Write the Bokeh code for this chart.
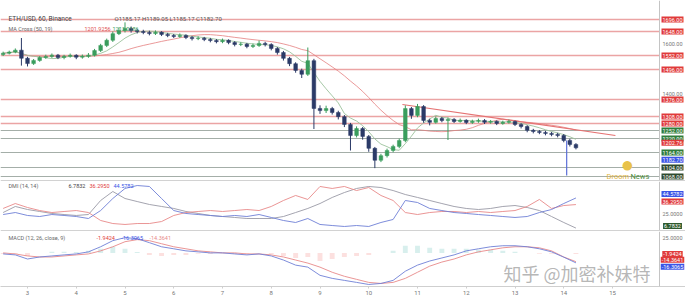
import numpy as np
import pandas as pd
from bokeh.plotting import figure
from bokeh.layouts import column
from bokeh.models import Range1d, Span, Label, FixedTicker
from bokeh.core.properties import value
from bokeh.embed import file_html
from bokeh.resources import INLINE

# ---------------- data ----------------
bar_step_days = 0.125          # 3-hour candles
first_bar_day = 2.5
first_open = 1556.0
closes = [1561.2, 1565.8, 1573.4, 1541.0, 1519.6, 1532.3, 1543.9, 1548.2, 1553.5, 1544.1,
          1549.0, 1552.7, 1545.3, 1548.6, 1553.2, 1571.8, 1592.4, 1613.0, 1639.5, 1651.7,
          1660.3, 1652.1, 1647.6, 1644.2, 1639.8, 1644.9, 1636.4, 1631.7, 1628.3, 1632.5,
          1624.0, 1619.6, 1621.2, 1615.8, 1611.9, 1607.4, 1612.6, 1603.8, 1596.1, 1597.5,
          1588.2, 1592.0, 1600.4, 1595.7, 1580.3, 1563.9, 1540.6, 1519.2, 1492.5, 1476.8,
          1531.4, 1340.2, 1331.6, 1339.8, 1324.1, 1307.5, 1276.3, 1231.8, 1259.7, 1228.4,
          1180.6, 1132.9, 1151.4, 1172.2, 1188.5, 1211.7, 1339.6, 1312.4, 1347.9, 1292.3,
          1284.6, 1300.2, 1291.8, 1296.4, 1288.1, 1292.6, 1284.3, 1288.9, 1292.1, 1284.7,
          1288.3, 1280.5, 1284.8, 1288.2, 1276.4, 1268.1, 1252.6, 1247.9, 1244.3, 1240.2,
          1236.5, 1232.1, 1212.4, 1196.3, 1182.7]
highs = [1567.5, 1571.4, 1580.2, 1622.0, 1546.8, 1537.9, 1549.6, 1555.3, 1560.1, 1558.2,
         1554.7, 1559.8, 1557.1, 1555.9, 1561.7, 1578.3, 1598.6, 1619.5, 1648.2, 1664.0,
         1684.6, 1667.9, 1658.4, 1655.0, 1651.3, 1652.4, 1649.1, 1642.5, 1638.0, 1640.2,
         1636.8, 1630.3, 1628.7, 1626.4, 1622.2, 1618.0, 1619.8, 1616.9, 1609.5, 1605.2,
         1602.3, 1599.6, 1611.8, 1606.9, 1601.0, 1585.7, 1570.2, 1546.3, 1525.0, 1499.4,
         1584.0, 1538.6, 1352.7, 1351.2, 1346.5, 1331.0, 1313.8, 1282.4, 1268.5, 1266.1,
         1234.0, 1186.2, 1158.8, 1179.5, 1195.3, 1219.6, 1352.4, 1346.0, 1358.3, 1353.6,
         1298.9, 1308.1, 1306.3, 1303.7, 1301.5, 1299.8, 1297.0, 1295.2, 1299.4, 1297.6,
         1294.1, 1292.8, 1291.3, 1295.7, 1292.0, 1281.5, 1273.2, 1258.7, 1254.0, 1250.6,
         1246.3, 1242.8, 1238.0, 1218.9, 1201.4]
lows = [1549.8, 1556.3, 1561.0, 1511.5, 1508.2, 1514.4, 1527.0, 1538.7, 1542.4, 1537.6,
        1536.9, 1543.5, 1537.2, 1539.4, 1542.8, 1548.1, 1566.2, 1585.7, 1606.4, 1633.8,
        1644.1, 1643.5, 1640.2, 1637.1, 1632.6, 1634.0, 1629.8, 1625.3, 1621.9, 1622.6,
        1617.4, 1612.1, 1613.5, 1609.3, 1604.7, 1600.6, 1601.2, 1597.0, 1588.4, 1589.7,
        1580.9, 1582.1, 1586.5, 1588.2, 1572.6, 1555.4, 1531.8, 1509.5, 1483.1, 1462.0,
        1470.3, 1258.0, 1318.4, 1322.0, 1315.8, 1296.3, 1265.7, 1172.0, 1224.3, 1215.2,
        1166.9, 1101.5, 1125.6, 1144.0, 1164.8, 1181.2, 1205.3, 1298.7, 1305.1, 1283.0,
        1272.4, 1279.5, 1285.0, 1214.0, 1281.9, 1283.4, 1277.5, 1278.6, 1282.7, 1278.0,
        1279.2, 1273.6, 1275.1, 1279.4, 1269.8, 1260.3, 1244.9, 1240.5, 1237.2, 1232.8,
        1229.1, 1224.6, 1204.7, 1188.0, 1176.5]

# DMI (one value every second candle)
dmi_blue = [23.8, 26.3, 22.6, 21.3, 23.8, 22.6, 21.3, 18.8, 28.8, 43.9,
            56.5, 60.2, 59.0, 43.9, 28.8, 25.1, 23.8, 22.6, 21.3, 22.6,
            21.3, 23.8, 20.1, 16.3, 13.8, 18.8, 11.3, 10.0, 8.8, 10.0,
            8.8, 13.8, 17.6, 41.4, 38.9, 31.4, 28.8, 26.3, 25.1, 23.8,
            22.6, 21.3, 20.1, 21.3, 26.3, 30.1, 37.6, 44.5782]
dmi_red = [31.4, 37.6, 32.6, 28.8, 26.3, 27.6, 28.8, 26.3, 16.3, 12.5,
           11.3, 12.5, 12.5, 15.0, 22.6, 26.3, 27.6, 28.8, 27.6, 28.8,
           30.1, 28.8, 33.9, 41.4, 47.7, 42.7, 59.0, 56.5, 59.0, 53.9,
           57.7, 47.7, 41.4, 26.3, 23.8, 26.3, 27.6, 27.6, 26.3, 27.6,
           26.3, 27.6, 28.8, 33.9, 42.7, 31.4, 35.1, 36.2950]
dmi_gray = [26.3, 33.9, 30.1, 27.6, 25.1, 23.8, 22.6, 23.8, 41.4, 52.7,
            43.9, 40.1, 36.4, 33.9, 31.4, 27.6, 25.1, 22.6, 21.3, 20.1,
            18.8, 18.8, 18.8, 21.3, 26.3, 31.4, 37.6, 45.2, 51.4, 56.5,
            59.0, 57.7, 53.9, 48.9, 45.2, 41.4, 37.6, 33.9, 31.4, 30.1,
            31.4, 33.9, 35.1, 32.6, 28.8, 21.3, 13.8, 6.7832]

# MACD (one value every second candle)
macd_line = [-1.7, -3.3, -10.0, -6.7, -5.0, -3.3, -1.7, 1.7, 10.0, 20.0,
             25.0, 23.3, 16.7, 10.0, 6.7, 3.3, 1.7, 0.0, 0.0, -1.7,
             -3.3, -1.7, -5.0, -11.7, -20.0, -23.3, -36.7, -41.7, -45.0, -48.3,
             -51.7, -50.0, -45.0, -30.0, -20.0, -13.3, -8.3, -3.3, 3.3, 6.7,
             10.0, 11.7, 11.7, 10.0, 6.7, 1.7, -7.0, -16.3065]
macd_signal = [0.0, -1.7, -5.0, -6.7, -6.7, -5.0, -3.3, -1.7, 3.3, 10.0,
               18.3, 21.7, 20.0, 15.0, 10.0, 6.7, 3.3, 1.7, 0.0, 0.0,
               -1.7, -1.7, -3.3, -6.7, -11.7, -16.7, -23.3, -31.7, -38.3, -43.3,
               -48.3, -50.0, -48.3, -41.7, -31.7, -21.7, -15.0, -10.0, -3.3, 1.7,
               5.0, 8.3, 10.0, 10.0, 8.3, 3.3, -6.7, -14.3641]

red_levels = [1696.0, 1648.0, 1552.0, 1496.0, 1376.0, 1308.0, 1280.0]
gray_levels = [1252.0, 1220.0, 1164.0, 1104.0, 1068.0]
axis_ticks_price = [1600.0, 1400.0]
trend_days = [10.69, 15.06]
trend_prices = [1356.0, 1232.0]
drawing_day = [14.06]
drawing_top = [1212.0]
drawing_bottom = [1072.0]
trend_label_price = 1202.76
last_price = 1182.70
day_ticks = [3, 4, 5, 6, 7, 8, 9, 10, 11, 12, 13, 14, 15]

# ---------------- geometry ----------------
W = 685
PX_PER_DAY = 48.75
X0_DAY = 3 - 27 / PX_PER_DAY
def dx(px):
    return X0_DAY + px / PX_PER_DAY

def main_y(py):        # pixel row -> price (main pane, rows 0..181)
    return 1772 - 4 * py
def dmi_y(py):         # local pixel row in DMI pane (0..50)
    return 5 + (48 - py) * 1.255
def macd_y(py):        # local pixel row in MACD pane frame (0..54)
    return (21 - py) / 0.6

AXIS_DAY = dx(659)
LABEL_DAY = dx(672)
FONT = "Roboto"

x_range = Range1d(dx(0), dx(W))

def make_fig(h, y0, y1, xaxis=False):
    f = figure(width=W, height=h, x_range=x_range, y_range=Range1d(y0, y1),
               output_backend="svg", toolbar_location=None,
               x_axis_location="below" if xaxis else None, y_axis_location=None,
               min_border=0, min_border_left=0, min_border_right=0,
               min_border_top=0, min_border_bottom=0)
    f.outline_line_color = None
    f.grid.visible = False
    f.background_fill_color = "white"
    f.border_fill_color = "white"
    f.add_layout(Span(location=AXIS_DAY, dimension="height", line_color="#c4c4c4", line_width=1))
    return f

def boxes(f, ys, texts, fill, y_offset=0, color="white"):
    f.text(x=[LABEL_DAY] * len(ys), y=ys, text=texts, text_font=value(FONT),
           text_font_size="5.5px", text_align="center", text_baseline="middle",
           text_color=color, background_fill_color=fill, padding=1, y_offset=y_offset)

def plain(f, ys, texts):
    f.text(x=[LABEL_DAY] * len(ys), y=ys, text=texts, text_font=value(FONT),
           text_font_size="5.5px", text_align="center", text_baseline="middle",
           text_color="#777777")

def head(f, px, y, text, color="#555555", size="6.5px"):
    f.add_layout(Label(x=dx(px), y=y, text=text, text_font=FONT, text_font_size=size,
                       text_color=color, text_baseline="middle"))

# ---------------- main pane ----------------
n = len(closes)
t = first_bar_day + np.arange(n) * bar_step_days
o = np.array([first_open] + closes[:-1])
c = np.array(closes)
up = c >= o
col = np.where(up, "#3a9d5d", "#2b3a67")

p = make_fig(181, main_y(181), main_y(0))

for lv in red_levels:
    p.segment(x0=[dx(0)], y0=[lv], x1=[AXIS_DAY], y1=[lv], line_color="#e99a9a", line_width=1.5, line_alpha=0.9)
for lv in gray_levels:
    p.segment(x0=[dx(0)], y0=[lv], x1=[AXIS_DAY], y1=[lv], line_color="#8d9a92", line_width=1, line_alpha=0.8)

ma_slow = pd.Series(closes).rolling(17, min_periods=1).mean()
ma_fast = pd.Series(closes).rolling(6, min_periods=1).mean()
p.line(t, ma_slow, line_color="#e57f7f", line_width=1, line_alpha=0.8)
p.line(t, ma_fast, line_color="#9cc29c", line_width=1, line_alpha=0.9)

p.line(trend_days, trend_prices, line_color="#e57373", line_width=1.2)
p.segment(x0=drawing_day, y0=drawing_top, x1=drawing_day, y1=drawing_bottom, line_color="#5b6fd6", line_width=1.2)

p.segment(t, highs, t, lows, line_color=col, line_width=1)
p.vbar(x=t, top=np.maximum(o, c), bottom=np.minimum(o, c), width=0.075,
       fill_color=col, line_color=col, line_width=0.5)

p.add_layout(Span(location=main_y(180.5), dimension="width", line_color="#d2d2d2", line_width=2))

boxes(p, red_levels, ["%.2f" % v for v in red_levels], "#e03a3a")
boxes(p, gray_levels[:3], ["%.2f" % v for v in gray_levels[:3]], "#2f7d3b")
boxes(p, gray_levels[3:], ["%.2f" % v for v in gray_levels[3:]], "#2e4a2e")
boxes(p, [trend_label_price], ["%.2f" % trend_label_price], "#e03a3a")
boxes(p, [last_price], ["%.2f" % last_price], "#3b55e6", y_offset=12)
plain(p, axis_ticks_price, ["%.2f" % v for v in axis_ticks_price])

head(p, 8, main_y(18), "ETH/USD, 60, Binance", "#444444")
head(p, 114, main_y(18), "O1185.17 H1189.05 L1185.17 C1182.70", "#555555", "6px")
head(p, 8, main_y(28), "MA Cross (50, 19)", "#666666", "5.5px")
head(p, 84, main_y(28), "1201.9256", "#e05050", "5.5px")
head(p, 112, main_y(28), "1213.0186", "#3a9d5d", "5.5px")

p.add_layout(Label(x=dx(627), y=main_y(164), text="●", text_font=FONT, text_font_size="22px",
                   text_color="#e8c24a", text_align="center", text_baseline="middle"))
head(p, 606, main_y(176), "Droom", "#e2b43a", "7.5px")
head(p, 630, main_y(176), "News", "#4d8c3c", "7.5px")

# ---------------- DMI pane ----------------
td = t[::2]
d = make_fig(50, dmi_y(50), dmi_y(0))
d.line(td, dmi_gray, line_color="#9a9aa6", line_width=1, line_alpha=0.9)
d.line(td, dmi_red, line_color="#e88a8a", line_width=1, line_alpha=0.9)
d.line(td, dmi_blue, line_color="#6f7fd6", line_width=1, line_alpha=0.9)
d.add_layout(Span(location=dmi_y(49.5), dimension="width", line_color="#d2d2d2", line_width=2))
boxes(d, [dmi_blue[-1]], ["%.4f" % dmi_blue[-1]], "#3b55e6", y_offset=-4)
boxes(d, [dmi_red[-1]], ["%.4f" % dmi_red[-1]], "#e03a3a", y_offset=-3)
boxes(d, [dmi_gray[-1]], ["%.4f" % dmi_gray[-1]], "#2e5a2e", y_offset=-2)
plain(d, [25.0], ["25.0000"])
head(d, 8, dmi_y(4), "DMI (14, 14)", "#666666", "5.5px")
head(d, 68, dmi_y(4), "%.4f" % dmi_gray[-1], "#444444", "5.5px")
head(d, 89, dmi_y(4), "%.4f" % dmi_red[-1], "#e03a3a", "5.5px")
head(d, 113, dmi_y(4), "%.4f" % dmi_blue[-1], "#3b55e6", "5.5px")

# ---------------- MACD pane ----------------
m = make_fig(66, macd_y(54), macd_y(0), xaxis=True)
hist = np.array(macd_line) - np.array(macd_signal)
m.vbar(x=td, top=hist, bottom=0, width=0.1,
       fill_color=np.where(hist >= 0, "#26a69a", "#ef5350"), line_color=None, fill_alpha=0.18)
m.line(td, macd_signal, line_color="#e88a8a", line_width=1, line_alpha=0.9)
m.line(td, macd_line, line_color="#6f7fd6", line_width=1, line_alpha=0.9)
plain(m, [25.0], ["25.0000"])
boxes(m, [hist[-1]], ["%.4f" % hist[-1]], "#e03a3a")
boxes(m, [macd_signal[-1]], ["%.4f" % macd_signal[-1]], "#e03a3a", y_offset=-2)
boxes(m, [macd_line[-1]], ["%.4f" % macd_line[-1]], "#3b55e6", y_offset=4)
head(m, 8, macd_y(6), "MACD (12, 26, close, 9)", "#666666", "5.5px")
head(m, 96, macd_y(6), "%.4f" % hist[-1], "#e03a3a", "5.5px")
head(m, 121, macd_y(6), "%.4f" % macd_line[-1], "#3b55e6", "5.5px")
head(m, 149, macd_y(6), "%.4f" % macd_signal[-1], "#e88a8a", "5.5px")
m.add_layout(Label(x=dx(503), y=macd_y(41), text="知乎 @加密补妹特", text_font="Noto Sans CJK SC",
                   text_font_size="18px", text_color="#a4a4a4", text_alpha=0.8,
                   text_baseline="middle"))

m.xaxis.ticker = FixedTicker(ticks=day_ticks)
m.xaxis.major_label_text_font = FONT
m.xaxis.major_label_text_font_size = "6px"
m.xaxis.major_label_text_color = "#777777"
m.xaxis.axis_line_color = "#cfcfcf"
m.xaxis.major_tick_line_color = "#cfcfcf"
m.xaxis.major_tick_out = 2
m.xaxis.major_tick_in = 0
m.xaxis.minor_tick_line_color = None
m.xaxis.major_label_standoff = 2

layout = column(p, d, m, spacing=0)
open("out.html", "w").write(file_html(layout, INLINE))
